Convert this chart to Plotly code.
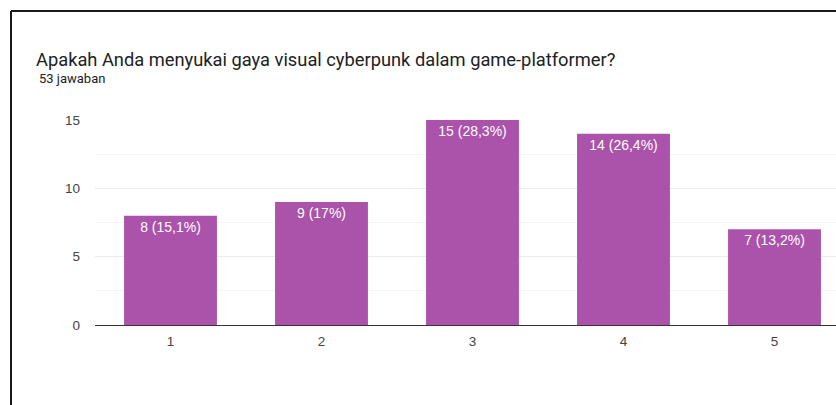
import plotly.graph_objects as go

# Survey responses on a 1-5 scale
categories = ["1", "2", "3", "4", "5"]
counts = [8, 9, 15, 14, 7]
total = 53
y_ticks = [0, 5, 10, 15]

question = "Apakah Anda menyukai gaya visual cyberpunk dalam game-platformer?"
subtitle = f"{total} jawaban"


def fmt_label(n):
    pct = round(n / total * 100, 1)
    s = f"{pct:.1f}".rstrip("0").rstrip(".").replace(".", ",")
    return f"{n} ({s}%)"


labels = [fmt_label(c) for c in counts]

W, H = 836, 405
ML, MR, MT, MB = 95, 0, 120, 80
PW, PH = W - ML - MR, H - MT - MB


def px_x(p):
    return (p - ML) / PW


def px_y(p):
    return (H - MB - p) / PH


fig = go.Figure(
    go.Bar(
        x=categories,
        y=counts,
        text=labels,
        textposition="inside",
        insidetextanchor="end",
        textangle=0,
        constraintext="none",
        textfont=dict(family="Arial, Liberation Sans, sans-serif", size=14, color="white"),
        marker=dict(color="#ab52ab", line=dict(width=0)),
        hoverinfo="skip",
    )
)

fig.update_layout(
    width=W,
    height=H,
    margin=dict(l=ML, r=MR, t=MT, b=MB, pad=0),
    paper_bgcolor="white",
    plot_bgcolor="white",
    bargap=0.385,
    showlegend=False,
    font=dict(family="Arial, Liberation Sans, sans-serif", size=13.5, color="#444444"),
    title=dict(
        text=question,
        x=36 / W,
        xanchor="left",
        xref="container",
        y=1 - 60 / H,
        yanchor="middle",
        yref="container",
        font=dict(family="Roboto, sans-serif", size=18.3, color="#202124"),
    ),
    annotations=[
        dict(
            text=subtitle,
            xref="paper",
            yref="paper",
            x=px_x(37),
            y=px_y(78),
            xanchor="left",
            yanchor="middle",
            showarrow=False,
            font=dict(family="Roboto, sans-serif", size=13, color="#202124"),
        )
    ],
    shapes=[
        # card frame (left and top edges)
        dict(type="line", xref="paper", yref="paper",
             x0=px_x(11), x1=px_x(W + 5), y0=px_y(11), y1=px_y(11),
             line=dict(color="#1a1a1a", width=2)),
        dict(type="line", xref="paper", yref="paper",
             x0=px_x(11), x1=px_x(11), y0=px_y(11), y1=px_y(H + 5),
             line=dict(color="#1a1a1a", width=2)),
    ],
)

fig.update_xaxes(
    type="category",
    range=[-0.5, -0.5 + PW / 151],
    showgrid=False,
    showline=True,
    linecolor="#333333",
    linewidth=1,
    ticks="",
    ticklabelstandoff=4,
    tickfont=dict(size=13.5, color="#444444"),
    fixedrange=True,
)

fig.update_yaxes(
    range=[0, 15],
    tickvals=y_ticks,
    showgrid=True,
    gridcolor="#ebebeb",
    gridwidth=1,
    zeroline=False,
    showline=False,
    ticks="",
    ticklabelstandoff=14,
    tickfont=dict(size=13.5, color="#444444"),
    minor=dict(dtick=2.5, tick0=0, showgrid=True, gridcolor="#f5f5f5", gridwidth=1),
    fixedrange=True,
)

fig.write_html("out.html", config=dict(displayModeBar=False))
